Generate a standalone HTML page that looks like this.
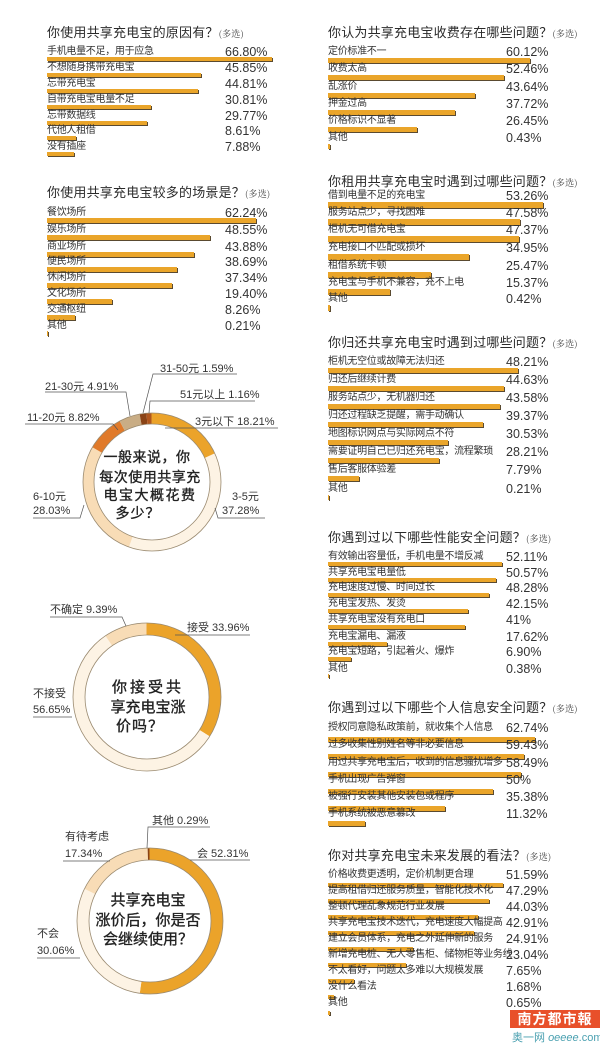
<!DOCTYPE html>
<html><head><meta charset="utf-8">
<style>
html,body{margin:0;padding:0;background:#fff;}
body{width:600px;height:1045px;position:relative;overflow:hidden;font-family:"Liberation Sans","Noto Sans CJK SC",sans-serif;color:#2a2a2a;}
.t{position:absolute;font-size:13px;line-height:16px;white-space:nowrap;letter-spacing:0.2px;}
.t small{font-family:"Noto Serif CJK SC",serif;font-size:9px;color:#444;}
.l{position:absolute;font-size:10px;line-height:12px;white-space:nowrap;letter-spacing:-0.3px;color:#333;}
.p{position:absolute;font-size:12.5px;line-height:14px;white-space:nowrap;color:#333;}
.b{position:absolute;background:#eaa52a;box-shadow:1px 1px 0 #5a4a30;}
svg{position:absolute;left:0;top:0;}
.logo{position:absolute;left:510px;top:1010px;width:90px;height:18px;background:#e8502a;color:#fff;font-size:14px;line-height:18px;text-align:center;font-weight:bold;letter-spacing:1px;}
.logo2{position:absolute;left:512px;top:1029px;font-size:11px;color:#4aa0b0;white-space:nowrap;}
.dt{stroke:#222;stroke-width:0.35;}
</style></head><body>

<!-- Left section 1 -->
<div class="t" style="left:47px;top:25px">你使用共享充电宝的原因有？<small>(多选)</small></div>
<div class="l" style="left:47px;top:46px">手机电量不足，用于应急</div><div class="p" style="left:225px;top:45px">66.80%</div><div class="b" style="left:47px;top:57px;width:225px;height:4px"></div>
<div class="l" style="left:47px;top:62px">不想随身携带充电宝</div><div class="p" style="left:225px;top:61px">45.85%</div><div class="b" style="left:47px;top:73px;width:154px;height:4px"></div>
<div class="l" style="left:47px;top:78px">忘带充电宝</div><div class="p" style="left:225px;top:77px">44.81%</div><div class="b" style="left:47px;top:89px;width:151px;height:4px"></div>
<div class="l" style="left:47px;top:94px">自带充电宝电量不足</div><div class="p" style="left:225px;top:93px">30.81%</div><div class="b" style="left:47px;top:105px;width:104px;height:4px"></div>
<div class="l" style="left:47px;top:110px">忘带数据线</div><div class="p" style="left:225px;top:109px">29.77%</div><div class="b" style="left:47px;top:121px;width:100px;height:4px"></div>
<div class="l" style="left:47px;top:125px">代他人租借</div><div class="p" style="left:225px;top:124px">8.61%</div><div class="b" style="left:47px;top:136px;width:29px;height:4px"></div>
<div class="l" style="left:47px;top:141px">没有插座</div><div class="p" style="left:225px;top:140px">7.88%</div><div class="b" style="left:47px;top:152px;width:27px;height:4px"></div>

<!-- Left section 2 -->
<div class="t" style="left:47px;top:185px">你使用共享充电宝较多的场景是？<small>(多选)</small></div>
<div class="l" style="left:47px;top:207px">餐饮场所</div><div class="p" style="left:225px;top:206px">62.24%</div><div class="b" style="left:47px;top:218px;width:209px;height:5px"></div>
<div class="l" style="left:47px;top:224px">娱乐场所</div><div class="p" style="left:225px;top:223px">48.55%</div><div class="b" style="left:47px;top:235px;width:163px;height:5px"></div>
<div class="l" style="left:47px;top:241px">商业场所</div><div class="p" style="left:225px;top:240px">43.88%</div><div class="b" style="left:47px;top:252px;width:147px;height:5px"></div>
<div class="l" style="left:47px;top:256px">便民场所</div><div class="p" style="left:225px;top:255px">38.69%</div><div class="b" style="left:47px;top:267px;width:130px;height:5px"></div>
<div class="l" style="left:47px;top:272px">休闲场所</div><div class="p" style="left:225px;top:271px">37.34%</div><div class="b" style="left:47px;top:283px;width:125px;height:5px"></div>
<div class="l" style="left:47px;top:288px">文化场所</div><div class="p" style="left:225px;top:287px">19.40%</div><div class="b" style="left:47px;top:299px;width:65px;height:5px"></div>
<div class="l" style="left:47px;top:304px">交通枢纽</div><div class="p" style="left:225px;top:303px">8.26%</div><div class="b" style="left:47px;top:315px;width:28px;height:5px"></div>
<div class="l" style="left:47px;top:320px">其他</div><div class="p" style="left:225px;top:319px">0.21%</div><div class="b" style="left:47px;top:331px;width:1px;height:5px"></div>

<!-- Right section 1 -->
<div class="t" style="left:328px;top:25px">你认为共享充电宝收费存在哪些问题？<small>(多选)</small></div>
<div class="l" style="left:328px;top:46px">定价标准不一</div><div class="p" style="left:506px;top:45px">60.12%</div><div class="b" style="left:328px;top:58px;width:202px;height:5px"></div>
<div class="l" style="left:328px;top:63px">收费太高</div><div class="p" style="left:506px;top:62px">52.46%</div><div class="b" style="left:328px;top:75px;width:176px;height:5px"></div>
<div class="l" style="left:328px;top:81px">乱涨价</div><div class="p" style="left:506px;top:80px">43.64%</div><div class="b" style="left:328px;top:93px;width:147px;height:5px"></div>
<div class="l" style="left:328px;top:98px">押金过高</div><div class="p" style="left:506px;top:97px">37.72%</div><div class="b" style="left:328px;top:110px;width:127px;height:5px"></div>
<div class="l" style="left:328px;top:115px">价格标识不显著</div><div class="p" style="left:506px;top:114px">26.45%</div><div class="b" style="left:328px;top:127px;width:89px;height:5px"></div>
<div class="l" style="left:328px;top:132px">其他</div><div class="p" style="left:506px;top:131px">0.43%</div><div class="b" style="left:328px;top:144px;width:2px;height:5px"></div>

<!-- Right section 2 -->
<div class="t" style="left:328px;top:174px">你租用共享充电宝时遇到过哪些问题？<small>(多选)</small></div>
<div class="l" style="left:328px;top:190px">借到电量不足的充电宝</div><div class="p" style="left:506px;top:189px">53.26%</div><div class="b" style="left:328px;top:202px;width:215px;height:6px"></div>
<div class="l" style="left:328px;top:207px">服务站点少，寻找困难</div><div class="p" style="left:506px;top:206px">47.58%</div><div class="b" style="left:328px;top:219px;width:192px;height:6px"></div>
<div class="l" style="left:328px;top:224px">柜机无可借充电宝</div><div class="p" style="left:506px;top:223px">47.37%</div><div class="b" style="left:328px;top:236px;width:191px;height:6px"></div>
<div class="l" style="left:328px;top:242px">充电接口不匹配或损坏</div><div class="p" style="left:506px;top:241px">34.95%</div><div class="b" style="left:328px;top:254px;width:141px;height:6px"></div>
<div class="l" style="left:328px;top:260px">租借系统卡顿</div><div class="p" style="left:506px;top:259px">25.47%</div><div class="b" style="left:328px;top:272px;width:103px;height:6px"></div>
<div class="l" style="left:328px;top:277px">充电宝与手机不兼容，充不上电</div><div class="p" style="left:506px;top:276px">15.37%</div><div class="b" style="left:328px;top:289px;width:62px;height:6px"></div>
<div class="l" style="left:328px;top:293px">其他</div><div class="p" style="left:506px;top:292px">0.42%</div><div class="b" style="left:328px;top:305px;width:2px;height:6px"></div>

<!-- Right section 3 -->
<div class="t" style="left:328px;top:335px">你归还共享充电宝时遇到过哪些问题？<small>(多选)</small></div>
<div class="l" style="left:328px;top:356px">柜机无空位或故障无法归还</div><div class="p" style="left:506px;top:355px">48.21%</div><div class="b" style="left:328px;top:368px;width:190px;height:5px"></div>
<div class="l" style="left:328px;top:374px">归还后继续计费</div><div class="p" style="left:506px;top:373px">44.63%</div><div class="b" style="left:328px;top:386px;width:176px;height:5px"></div>
<div class="l" style="left:328px;top:392px">服务站点少，无机器归还</div><div class="p" style="left:506px;top:391px">43.58%</div><div class="b" style="left:328px;top:404px;width:172px;height:5px"></div>
<div class="l" style="left:328px;top:410px">归还过程缺乏提醒，需手动确认</div><div class="p" style="left:506px;top:409px">39.37%</div><div class="b" style="left:328px;top:422px;width:155px;height:5px"></div>
<div class="l" style="left:328px;top:428px">地图标识网点与实际网点不符</div><div class="p" style="left:506px;top:427px">30.53%</div><div class="b" style="left:328px;top:440px;width:120px;height:5px"></div>
<div class="l" style="left:328px;top:446px">需要证明自己已归还充电宝，流程繁琐</div><div class="p" style="left:506px;top:445px">28.21%</div><div class="b" style="left:328px;top:458px;width:111px;height:5px"></div>
<div class="l" style="left:328px;top:464px">售后客服体验差</div><div class="p" style="left:506px;top:463px">7.79%</div><div class="b" style="left:328px;top:476px;width:31px;height:5px"></div>
<div class="l" style="left:328px;top:483px">其他</div><div class="p" style="left:506px;top:482px">0.21%</div><div class="b" style="left:328px;top:495px;width:1px;height:5px"></div>

<!-- Right section 4 -->
<div class="t" style="left:328px;top:530px">你遇到过以下哪些性能安全问题？<small>(多选)</small></div>
<div class="l" style="left:328px;top:551px">有效输出容量低，手机电量不增反减</div><div class="p" style="left:506px;top:550px">52.11%</div><div class="b" style="left:328px;top:562px;width:174px;height:4px"></div>
<div class="l" style="left:328px;top:567px">共享充电宝电量低</div><div class="p" style="left:506px;top:566px">50.57%</div><div class="b" style="left:328px;top:578px;width:168px;height:4px"></div>
<div class="l" style="left:328px;top:582px">充电速度过慢、时间过长</div><div class="p" style="left:506px;top:581px">48.28%</div><div class="b" style="left:328px;top:593px;width:161px;height:4px"></div>
<div class="l" style="left:328px;top:598px">充电宝发热、发烫</div><div class="p" style="left:506px;top:597px">42.15%</div><div class="b" style="left:328px;top:609px;width:140px;height:4px"></div>
<div class="l" style="left:328px;top:614px">共享充电宝没有充电口</div><div class="p" style="left:506px;top:613px">41%</div><div class="b" style="left:328px;top:625px;width:137px;height:4px"></div>
<div class="l" style="left:328px;top:631px">充电宝漏电、漏液</div><div class="p" style="left:506px;top:630px">17.62%</div><div class="b" style="left:328px;top:642px;width:59px;height:4px"></div>
<div class="l" style="left:328px;top:646px">充电宝短路，引起着火、爆炸</div><div class="p" style="left:506px;top:645px">6.90%</div><div class="b" style="left:328px;top:657px;width:23px;height:4px"></div>
<div class="l" style="left:328px;top:663px">其他</div><div class="p" style="left:506px;top:662px">0.38%</div><div class="b" style="left:328px;top:674px;width:1px;height:4px"></div>

<!-- Right section 5 -->
<div class="t" style="left:328px;top:700px">你遇到过以下哪些个人信息安全问题？<small>(多选)</small></div>
<div class="l" style="left:328px;top:722px">授权同意隐私政策前，就收集个人信息</div><div class="p" style="left:506px;top:721px">62.74%</div><div class="b" style="left:328px;top:737px;width:207px;height:5px"></div>
<div class="l" style="left:328px;top:739px">过多收集性别姓名等非必要信息</div><div class="p" style="left:506px;top:738px">59.43%</div><div class="b" style="left:328px;top:754px;width:196px;height:5px"></div>
<div class="l" style="left:328px;top:757px">用过共享充电宝后，收到的信息骚扰增多</div><div class="p" style="left:506px;top:756px">58.49%</div><div class="b" style="left:328px;top:772px;width:193px;height:5px"></div>
<div class="l" style="left:328px;top:774px">手机出现广告弹窗</div><div class="p" style="left:506px;top:773px">50%</div><div class="b" style="left:328px;top:789px;width:165px;height:5px"></div>
<div class="l" style="left:328px;top:791px">被强行安装其他安装包或程序</div><div class="p" style="left:506px;top:790px">35.38%</div><div class="b" style="left:328px;top:806px;width:117px;height:5px"></div>
<div class="l" style="left:328px;top:808px">手机系统被恶意篡改</div><div class="p" style="left:506px;top:807px">11.32%</div><div class="b" style="left:328px;top:821px;width:37px;height:5px"></div>

<!-- Right section 6 -->
<div class="t" style="left:328px;top:848px">你对共享充电宝未来发展的看法？<small>(多选)</small></div>
<div class="l" style="left:328px;top:869px">价格收费更透明，定价机制更合理</div><div class="p" style="left:506px;top:868px">51.59%</div><div class="b" style="left:328px;top:883px;width:175px;height:4px"></div>
<div class="l" style="left:328px;top:885px">提高租借归还服务质量，智能化技术化</div><div class="p" style="left:506px;top:884px">47.29%</div><div class="b" style="left:328px;top:899px;width:161px;height:4px"></div>
<div class="l" style="left:328px;top:901px">整顿代理乱象规范行业发展</div><div class="p" style="left:506px;top:900px">44.03%</div><div class="b" style="left:328px;top:915px;width:150px;height:4px"></div>
<div class="l" style="left:328px;top:917px">共享充电宝技术迭代，充电速度大幅提高</div><div class="p" style="left:506px;top:916px">42.91%</div><div class="b" style="left:328px;top:931px;width:146px;height:4px"></div>
<div class="l" style="left:328px;top:933px">建立会员体系，充电之外延伸新的服务</div><div class="p" style="left:506px;top:932px">24.91%</div><div class="b" style="left:328px;top:947px;width:85px;height:4px"></div>
<div class="l" style="left:328px;top:949px">新增充电桩、无人零售柜、储物柜等业务线</div><div class="p" style="left:506px;top:948px">23.04%</div><div class="b" style="left:328px;top:963px;width:78px;height:4px"></div>
<div class="l" style="left:328px;top:965px">不太看好，问题太多难以大规模发展</div><div class="p" style="left:506px;top:964px">7.65%</div><div class="b" style="left:328px;top:979px;width:26px;height:4px"></div>
<div class="l" style="left:328px;top:981px">没什么看法</div><div class="p" style="left:506px;top:980px">1.68%</div><div class="b" style="left:328px;top:995px;width:6px;height:4px"></div>
<div class="l" style="left:328px;top:997px">其他</div><div class="p" style="left:506px;top:996px">0.65%</div><div class="b" style="left:328px;top:1011px;width:2px;height:4px"></div>

<div class="logo">南方都市報</div>
<div class="logo2">奥一网 <i>oeeee</i>.com</div>

<svg width="600" height="1045" viewBox="0 0 600 1045" font-family="Liberation Sans, Noto Sans CJK SC, sans-serif">
<!-- Donut 1 -->
<g transform="translate(152,482) rotate(-90)" fill="none" stroke-width="11">
<circle r="63.5" pathLength="100" stroke="#eba32a" stroke-dasharray="18.21 81.79" stroke-dashoffset="0"/>
<circle r="63.5" pathLength="100" stroke="#fdf3e4" stroke-dasharray="37.28 62.72" stroke-dashoffset="-18.21"/>
<circle r="63.5" pathLength="100" stroke="#f8dcb6" stroke-dasharray="28.03 71.97" stroke-dashoffset="-55.49"/>
<circle r="63.5" pathLength="100" stroke="#e07a2a" stroke-dasharray="8.82 91.18" stroke-dashoffset="-83.52"/>
<circle r="63.5" pathLength="100" stroke="#c9ad85" stroke-dasharray="4.91 95.09" stroke-dashoffset="-92.34"/>
<circle r="63.5" pathLength="100" stroke="#8a4316" stroke-dasharray="1.59 98.41" stroke-dashoffset="-97.25"/>
<circle r="63.5" pathLength="100" stroke="#b0561d" stroke-dasharray="1.16 98.84" stroke-dashoffset="-98.84"/>
</g>
<circle cx="152" cy="482" r="69" fill="none" stroke="#9a8a70" stroke-width="0.8"/>
<circle cx="152" cy="482" r="58" fill="none" stroke="#9a8a70" stroke-width="0.8"/>
<g font-size="14" fill="#222" text-anchor="middle" class="dt">
<text x="147" y="462" letter-spacing="0.5">一般来说，你</text>
<text x="150" y="482" letter-spacing="0.5">每次使用共享充</text>
<text x="150" y="500" letter-spacing="1.5">电宝大概花费</text>
<text x="138" y="518" letter-spacing="1">多少？</text>
</g>
<g font-size="11" fill="#333" stroke="none">
<text x="160" y="372">31-50元 1.59%</text>
<text x="45" y="390">21-30元 4.91%</text>
<text x="27" y="421">11-20元 8.82%</text>
<text x="180" y="398">51元以上 1.16%</text>
<text x="195" y="425">3元以下  18.21%</text>
<text x="33" y="500">6-10元</text><text x="33" y="514">28.03%</text>
<text x="232" y="500">3-5元</text><text x="222" y="514">37.28%</text>
</g>
<g stroke="#555" stroke-width="0.7" fill="none">
<polyline points="237,374 153,374 143,413"/>
<polyline points="45,392 126,392 130,416"/>
<polyline points="25,424 113,424 118,430"/>
<polyline points="255,401 150,401 149,413"/>
<polyline points="278,428 165,428"/>
<polyline points="33,518 80,518 84,505"/>
<polyline points="265,518 218,518 215,508"/>
</g>

<!-- Donut 2 -->
<g transform="translate(147,697) rotate(-90)" fill="none" stroke-width="12">
<circle r="68" pathLength="100" stroke="#eba32a" stroke-dasharray="33.96 66.04"/>
<circle r="68" pathLength="100" stroke="#fdf3e4" stroke-dasharray="56.65 43.35" stroke-dashoffset="-33.96"/>
<circle r="68" pathLength="100" stroke="#f8dcb6" stroke-dasharray="9.39 90.61" stroke-dashoffset="-90.61"/>
</g>
<circle cx="147" cy="697" r="74" fill="none" stroke="#9a8a70" stroke-width="0.8"/>
<circle cx="147" cy="697" r="62" fill="none" stroke="#9a8a70" stroke-width="0.8"/>
<g font-size="15" fill="#222" text-anchor="middle" class="dt">
<text x="148" y="692" letter-spacing="3">你接受共</text>
<text x="148" y="712">享充电宝涨</text>
<text x="140" y="731" letter-spacing="1">价吗？</text>
</g>
<g font-size="11" fill="#333">
<text x="50" y="613">不确定 9.39%</text>
<text x="187" y="631">接受 33.96%</text>
<text x="33" y="697">不接受</text><text x="33" y="713">56.65%</text>
</g>
<g stroke="#555" stroke-width="0.7" fill="none">
<polyline points="50,617 122,617 126,626"/>
<polyline points="250,635 175,635"/>
<polyline points="33,717 72,717"/>
</g>

<!-- Donut 3 -->
<g transform="translate(150,921) rotate(-90)" fill="none" stroke-width="12">
<circle r="67" pathLength="100" stroke="#eba32a" stroke-dasharray="52.31 47.69"/>
<circle r="67" pathLength="100" stroke="#fdf3e4" stroke-dasharray="30.06 69.94" stroke-dashoffset="-52.31"/>
<circle r="67" pathLength="100" stroke="#f8dcb6" stroke-dasharray="17.34 82.66" stroke-dashoffset="-82.37"/>
<circle r="67" pathLength="100" stroke="#8a4316" stroke-dasharray="0.4 99.6" stroke-dashoffset="-99.6"/>
</g>
<circle cx="150" cy="921" r="73" fill="none" stroke="#9a8a70" stroke-width="0.8"/>
<circle cx="150" cy="921" r="61" fill="none" stroke="#9a8a70" stroke-width="0.8"/>
<g font-size="15" fill="#222" text-anchor="middle" class="dt">
<text x="148" y="905">共享充电宝</text>
<text x="148" y="925">涨价后，你是否</text>
<text x="148" y="944">会继续使用？</text>
</g>
<g font-size="11" fill="#333">
<text x="152" y="824">其他 0.29%</text>
<text x="65" y="840">有待考虑</text><text x="65" y="857">17.34%</text>
<text x="197" y="857">会 52.31%</text>
<text x="37" y="937">不会</text><text x="37" y="954">30.06%</text>
</g>
<g stroke="#555" stroke-width="0.7" fill="none">
<polyline points="210,827 148,827 147,848"/>
<polyline points="63,861 110,861"/>
<polyline points="250,860 190,860"/>
<polyline points="37,958 80,958"/>
</g>
</svg>
</body></html>
